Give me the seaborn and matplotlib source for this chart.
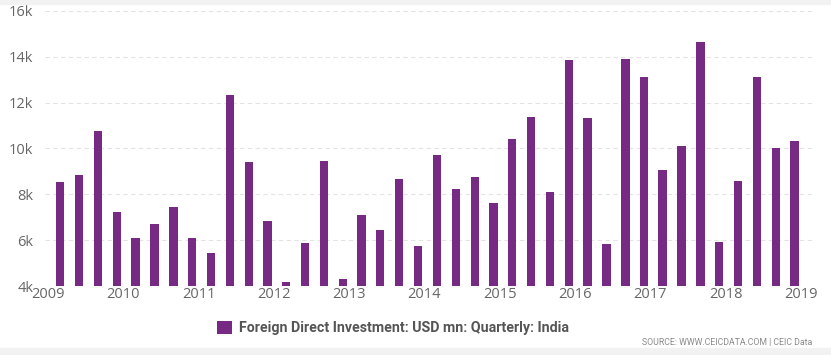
import numpy as np
import pandas as pd
import matplotlib
matplotlib.use("Agg")
import matplotlib.pyplot as plt
import seaborn as sns
from matplotlib.patches import Rectangle

# ---- data ----
quarters = pd.period_range("2009Q1", "2018Q4", freq="Q").astype(str).tolist()
fdi_usd_mn = [8550, 8860, 10750, 7210, 6090, 6690, 7450, 6090,
              5450, 12320, 9420, 6820, 4170, 5880, 9470, 4290,
              7110, 6430, 8680, 5730, 9720, 8230, 8770, 7640,
              10430, 11390, 8110, 13860, 11340, 5850, 13920, 13130,
              9070, 10110, 14650, 5930, 8570, 13100, 10010, 10340]
series_name = "Foreign Direct Investment: USD mn: Quarterly: India"
y_ticks = [4000, 6000, 8000, 10000, 12000, 14000, 16000]
y_tick_labels = ["4k", "6k", "8k", "10k", "12k", "14k", "16k"]
x_ticks = list(range(2009, 2020))

# position each quarter at the first day of its last month, as decimal years
dates = [pd.Period(q, freq="Q").end_time.to_period("M").start_time for q in quarters]
xpos = [d.year + (d.dayofyear - 1) / 365.0 for d in dates]

df = pd.DataFrame({"x": xpos, "value": fdi_usd_mn, "series": series_name})

bar_color = "#772A84"
W, H = 831, 355
fig = plt.figure(figsize=(W / 100, H / 100), dpi=100, facecolor="white")
ax = fig.add_axes([45 / W, 69 / H, (815 - 45) / W, (286 - 11) / H])

sns.barplot(data=df, x="x", y="value", hue="series", palette=[bar_color],
            native_scale=True, width=0.45, ax=ax, saturation=1, legend=True)

ax.set_xlim(2009 - 3 / 75.3, 2019 + 14 / 75.3)
ax.set_ylim(4000, 16000)
ax.set_yticks(y_ticks)
ax.set_yticklabels(y_tick_labels)
ax.set_xticks(x_ticks)
ax.set_xticklabels([str(t) for t in x_ticks])
ax.set_xlabel("")
ax.set_ylabel("")
for s in ax.spines.values():
    s.set_visible(False)
ax.tick_params(axis="both", length=0, colors="#666666", labelsize=10.5)
ax.tick_params(axis="y", pad=8.5)
ax.tick_params(axis="x", pad=1)
ax.yaxis.grid(True, color="#e3e3e3", linestyle=(0, (4, 3)), linewidth=0.8)
ax.xaxis.grid(False)
ax.set_axisbelow(True)
for lab in ax.get_xticklabels() + ax.get_yticklabels():
    lab.set_fontfamily(["Open Sans", "DejaVu Sans"])

sns.move_legend(ax, "center", bbox_to_anchor=(393 / W, (H - 328) / H),
                bbox_transform=fig.transFigure, frameon=False, title=None,
                handlelength=1.0, handleheight=1.0, handletextpad=0.5,
                prop={"family": ["Roboto", "DejaVu Sans"],
                      "weight": "bold", "size": 10.2})
for t in ax.get_legend().get_texts():
    t.set_color("#555555")

# page background strips
fig.patches.append(Rectangle((0, (H - 4) / H), 1, 4 / H, transform=fig.transFigure,
                             color="#f2f2f2", zorder=0))
fig.patches.append(Rectangle((0, 0), 1, 7 / H, transform=fig.transFigure,
                             color="#f2f2f2", zorder=0))

fig.text(812 / W, (H - 343) / H, "SOURCE: WWW.CEICDATA.COM | CEIC Data",
         ha="right", va="center", fontsize=6.3, color="#8a8a8a",
         family=["Roboto", "DejaVu Sans"])

fig.savefig("out.png", dpi=100, facecolor="white")
